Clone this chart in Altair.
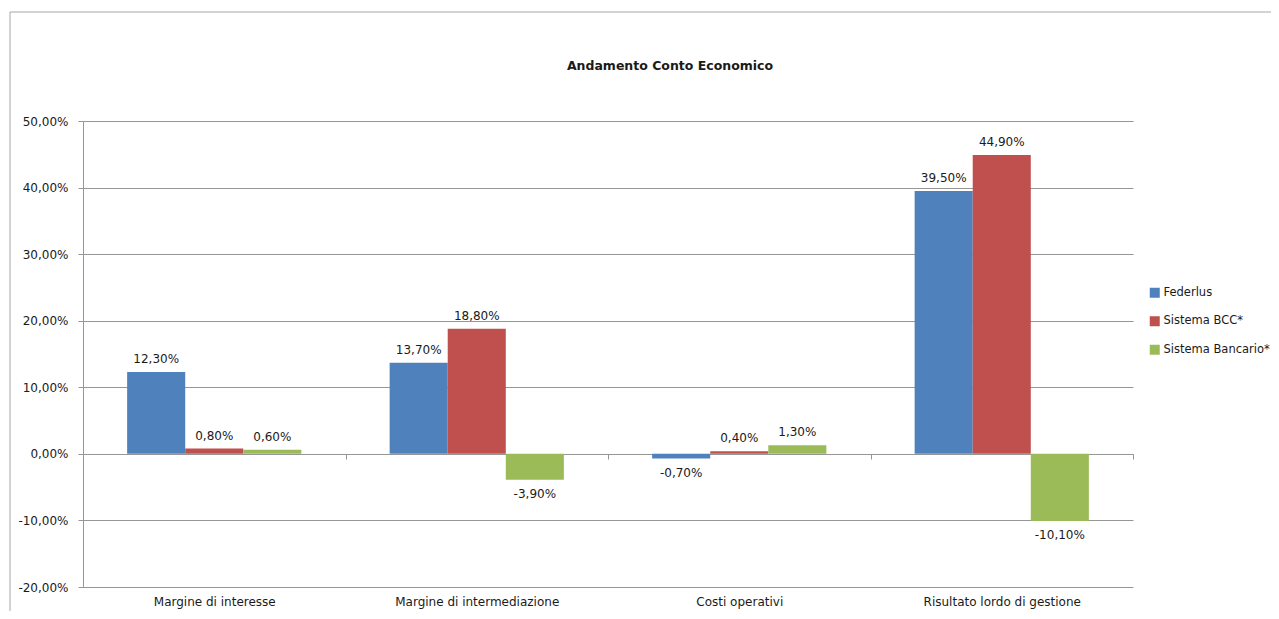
import altair as alt
import pandas as pd

categories = ["Margine di interesse", "Margine di intermediazione", "Costi operativi", "Risultato lordo di gestione"]
series = ["Federlus", "Sistema BCC*", "Sistema Bancario*"]
federlus = [12.3, 13.7, -0.7, 39.5]
sistema_bcc = [0.8, 18.8, 0.4, 44.9]
sistema_bancario = [0.6, -3.9, 1.3, -10.1]
colors = ["#4F81BD", "#C0504D", "#9BBB59"]
y_ticks = [-20, -10, 0, 10, 20, 30, 40, 50]

rows = []
for s, vals in zip(series, [federlus, sistema_bcc, sistema_bancario]):
    for c, v in zip(categories, vals):
        rows.append({"cat": c, "serie": s, "val": v,
                     "label": f"{v:.2f}".replace(".", ",") + "%"})
df = pd.DataFrame(rows)

FONT = "DejaVu Sans"
GRAY = "#969696"
TXT = "#1a1a1a"

x = alt.X("cat:N", sort=categories,
          scale=alt.Scale(paddingInner=0, paddingOuter=0),
          axis=alt.Axis(title=None, orient="bottom", offset=-133, tickBand="extent",
                        tickSize=5, tickColor=GRAY, domainColor=GRAY, labelPadding=137,
                        labelFont=FONT, labelFontSize=12, labelColor=TXT, labelAngle=0,
                        grid=False))
xo = alt.XOffset("serie:N", sort=series,
                 scale=alt.Scale(paddingInner=0, paddingOuter=0.76))
y = alt.Y("val:Q", scale=alt.Scale(domain=[-20, 50], nice=False, zero=False),
          axis=alt.Axis(title=None, values=y_ticks,
                        labelExpr="(datum.value < 0 ? '-' : '') + replace(format(abs(datum.value), '.2f'), '.', ',') + '%'",
                        grid=True, gridColor=GRAY, domainColor=GRAY, tickColor=GRAY,
                        tickSize=5, labelPadding=10, labelFont=FONT, labelFontSize=12,
                        labelColor=TXT))
color = alt.Color("serie:N", sort=series,
                  scale=alt.Scale(domain=series, range=colors),
                  legend=alt.Legend(title=None, orient="none", legendX=1066, legendY=166,
                                    symbolType="square", symbolSize=100, symbolStrokeWidth=0,
                                    labelFont=FONT, labelFontSize=11.5, labelColor=TXT,
                                    labelOffset=3, rowPadding=15.5))

base = alt.Chart(df)
bars = base.mark_bar().encode(x=x, xOffset=xo, y=y, color=color)
pos = base.transform_filter("datum.val >= 0").mark_text(
    baseline="bottom", dy=-6, font=FONT, fontSize=12, color=TXT
).encode(x=x, xOffset=xo, y=y, text="label:N")
neg = base.transform_filter("datum.val < 0").mark_text(
    baseline="top", dy=9, font=FONT, fontSize=12, color=TXT
).encode(x=x, xOffset=xo, y=y, text="label:N")

border = alt.Chart(pd.DataFrame({"a": [0]})).mark_rect(
    fillOpacity=0, stroke="#A6A6A6", strokeWidth=1
).encode(x=alt.value(-73), y=alt.value(-109), x2=alt.value(1400), y2=alt.value(700))

chart = alt.layer(border, bars, pos, neg).properties(
    width=1050, height=466,
    title=alt.TitleParams("Andamento Conto Economico", font=FONT, fontSize=12.5,
                          fontWeight="bold", color=TXT, anchor="middle", frame="group",
                          dx=62, offset=-61),
    autosize=alt.AutoSizeParams(type="none"),
    padding={"left": 75, "top": 113, "right": 138, "bottom": 24},
).configure_view(strokeWidth=0)

chart.save("out.html", embed_options={"renderer": "svg", "actions": False})
